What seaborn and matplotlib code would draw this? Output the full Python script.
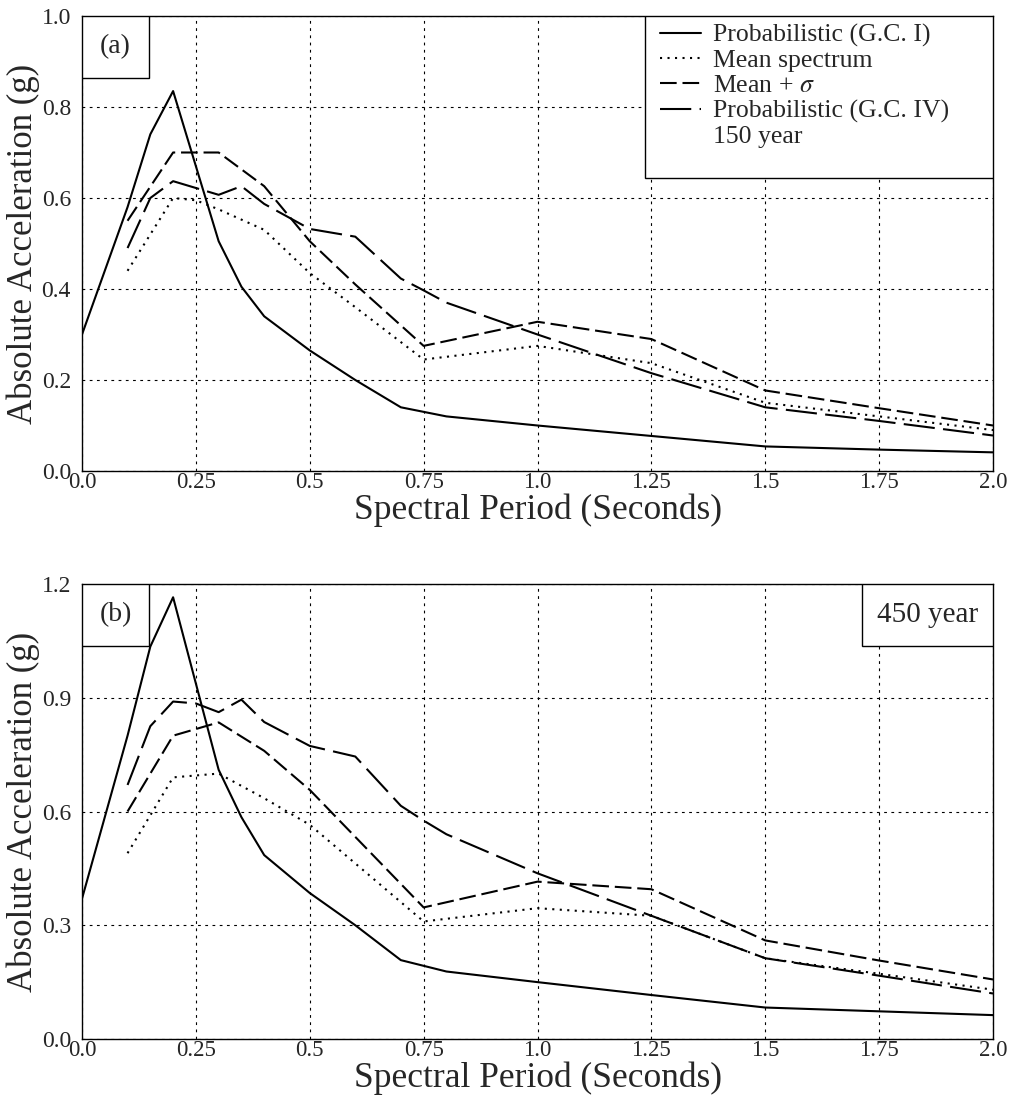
import matplotlib
matplotlib.use("Agg")
import matplotlib.pyplot as plt
import seaborn as sns
from matplotlib.lines import Line2D
from matplotlib.patches import Rectangle

# ---------------- data ----------------
x_ticks = [0.0, 0.25, 0.5, 0.75, 1.0, 1.25, 1.5, 1.75, 2.0]
x_tick_labels = ["0.0", "0.25", "0.5", "0.75", "1.0", "1.25", "1.5", "1.75", "2.0"]
y_ticks_a = [0.0, 0.2, 0.4, 0.6, 0.8, 1.0]
y_tick_labels_a = ["0.0", "0.2", "0.4", "0.6", "0.8", "1.0"]
y_ticks_b = [0.0, 0.3, 0.6, 0.9, 1.2]
y_tick_labels_b = ["0.0", "0.3", "0.6", "0.9", "1.2"]

series_labels = ["Probabilistic (G.C. I)", "Mean spectrum", "Mean + $\\sigma$",
                 "Probabilistic (G.C. IV)"]

# panel (a) 150 year
t_gc1_a = [0, 0.1, 0.15, 0.2, 0.3, 0.35, 0.4, 0.5, 0.6, 0.7, 0.8, 1.0, 1.25, 1.5, 1.75, 2.0]
v_gc1_a = [0.30, 0.58, 0.74, 0.835, 0.505, 0.405, 0.34, 0.265, 0.20, 0.14, 0.12, 0.10,
           0.077, 0.054, 0.047, 0.041]
t_mean_a = [0.1, 0.2, 0.25, 0.3, 0.4, 0.5, 0.6, 0.75, 1.0, 1.25, 1.5, 1.75, 2.0]
v_mean_a = [0.44, 0.60, 0.595, 0.575, 0.53, 0.435, 0.36, 0.245, 0.275, 0.237, 0.15, 0.12, 0.09]
t_msig_a = [0.1, 0.15, 0.2, 0.3, 0.4, 0.5, 0.6, 0.75, 1.0, 1.25, 1.5, 1.75, 2.0]
v_msig_a = [0.55, 0.625, 0.70, 0.70, 0.626, 0.505, 0.41, 0.275, 0.328, 0.29, 0.177, 0.138, 0.10]
t_gc4_a = [0.1, 0.15, 0.2, 0.25, 0.3, 0.35, 0.4, 0.5, 0.6, 0.7, 0.75, 0.8, 1.0, 1.25, 1.5,
           1.75, 2.0]
v_gc4_a = [0.49, 0.60, 0.637, 0.622, 0.607, 0.626, 0.587, 0.532, 0.515, 0.423, 0.397, 0.37,
           0.30, 0.215, 0.14, 0.11, 0.078]

# panel (b) 450 year
t_gc1_b = [0, 0.1, 0.15, 0.2, 0.3, 0.35, 0.4, 0.5, 0.6, 0.7, 0.8, 1.0, 1.25, 1.5, 1.75, 2.0]
v_gc1_b = [0.37, 0.80, 1.035, 1.165, 0.71, 0.585, 0.485, 0.385, 0.30, 0.208, 0.178, 0.15,
           0.116, 0.083, 0.073, 0.063]
t_mean_b = [0.1, 0.2, 0.25, 0.3, 0.4, 0.5, 0.75, 1.0, 1.25, 1.5, 1.75, 2.0]
v_mean_b = [0.49, 0.69, 0.695, 0.70, 0.635, 0.565, 0.31, 0.345, 0.325, 0.213, 0.172, 0.13]
t_msig_b = [0.1, 0.2, 0.3, 0.4, 0.5, 0.75, 1.0, 1.25, 1.5, 1.75, 2.0]
v_msig_b = [0.60, 0.80, 0.835, 0.76, 0.657, 0.347, 0.415, 0.395, 0.26, 0.207, 0.157]
t_gc4_b = [0.1, 0.15, 0.2, 0.25, 0.3, 0.35, 0.4, 0.5, 0.6, 0.7, 0.75, 0.8, 1.0, 1.25, 1.5,
           1.75, 2.0]
v_gc4_b = [0.67, 0.825, 0.89, 0.885, 0.862, 0.895, 0.836, 0.773, 0.745, 0.615, 0.576, 0.54,
           0.437, 0.325, 0.213, 0.167, 0.12]

# ---------------- style ----------------
sns.set_style("white")
plt.rcParams['font.family'] = ['Liberation Serif', 'DejaVu Serif']
plt.rcParams['mathtext.fontset'] = 'stix'

LW = 1.5
line_styles = [
    dict(linestyle='-'),
    dict(linestyle=(0, (1.0, 2.6))),
    dict(linestyle=(0, (8, 2.8))),
    dict(linestyle=(0, (15, 4))),
]

FIG_W, FIG_H = 1010, 1103
L, R = 82, 993
H_A, H_B = 455, 455
fig = plt.figure(figsize=(FIG_W / 100, FIG_H / 100), dpi=100)
ax_a = fig.add_axes([L / FIG_W, 1 - 471 / FIG_H, (R - L) / FIG_W, H_A / FIG_H])
ax_b = fig.add_axes([L / FIG_W, 1 - 1039 / FIG_H, (R - L) / FIG_W, H_B / FIG_H])


def draw(ax, data, yticks, ylabels, ymax, tag, hpx):
    for (t, v), st in zip(data, line_styles):
        sns.lineplot(x=t, y=v, ax=ax, color='black', lw=LW, estimator=None, sort=False,
                     **st)
    ax.set_xlim(0, 2.0)
    ax.set_ylim(0, ymax)
    ax.set_xticks(x_ticks)
    ax.set_xticklabels(x_tick_labels, fontsize=16.5)
    ax.set_yticks(yticks)
    ax.set_yticklabels(ylabels, fontsize=17)
    ax.tick_params(axis='x', length=0, pad=1)
    ax.tick_params(axis='y', length=0, pad=8)
    ax.grid(True, color='black', linestyle=(0, (2.5, 4)), linewidth=0.8)
    for s in ax.spines.values():
        s.set_color('black')
        s.set_linewidth(1.0)
    ax.set_xlabel("Spectral Period (Seconds)", fontsize=25.5, labelpad=0)
    ax.set_ylabel("Absolute Acceleration (g)", fontsize=25, labelpad=1)
    # tag box
    w, h = 67 / (R - L), 62 / hpx
    ax.add_patch(Rectangle((0, 1 - h), w, h, transform=ax.transAxes, facecolor='white',
                           edgecolor='black', lw=1.0, zorder=5))
    ax.text(w / 2, 1 - h / 2, tag, transform=ax.transAxes, ha='center', va='center',
            fontsize=20, zorder=6)


draw(ax_a, [(t_gc1_a, v_gc1_a), (t_mean_a, v_mean_a), (t_msig_a, v_msig_a),
            (t_gc4_a, v_gc4_a)], y_ticks_a, y_tick_labels_a, 1.0, "(a)", H_A)
draw(ax_b, [(t_gc1_b, v_gc1_b), (t_mean_b, v_mean_b), (t_msig_b, v_msig_b),
            (t_gc4_b, v_gc4_b)], y_ticks_b, y_tick_labels_b, 1.2, "(b)", H_B)

# legend box in (a)
lx0 = (645 - L) / (R - L)
ly0 = 1 - (178 - 16) / H_A
ax_a.add_patch(Rectangle((lx0, ly0), 1 - lx0, 1 - ly0, transform=ax_a.transAxes,
                         facecolor='white', edgecolor='black', lw=1.0, zorder=5))
handles = [Line2D([], [], color='black', lw=LW, **st) for st in line_styles]
handles.append(Line2D([], [], linestyle='none'))
leg = ax_a.legend(handles, series_labels + ["150 year"], loc='upper left',
                  bbox_to_anchor=((660 - L) / (R - L), 1 - 8 / H_A),
                  fontsize=18.5, frameon=False, borderaxespad=0, borderpad=0,
                  handlelength=1.6, handletextpad=0.45, labelspacing=0.08)
leg.set_zorder(6)

# "450 year" box in (b)
bw, bh = 131 / (R - L), 62 / H_B
ax_b.add_patch(Rectangle((1 - bw, 1 - bh), bw, bh, transform=ax_b.transAxes,
                         facecolor='white', edgecolor='black', lw=1.0, zorder=5))
ax_b.text(1 - bw / 2, 1 - bh / 2, "450 year", transform=ax_b.transAxes, ha='center',
          va='center', fontsize=21, zorder=6)

fig.savefig("out.png", dpi=100)
